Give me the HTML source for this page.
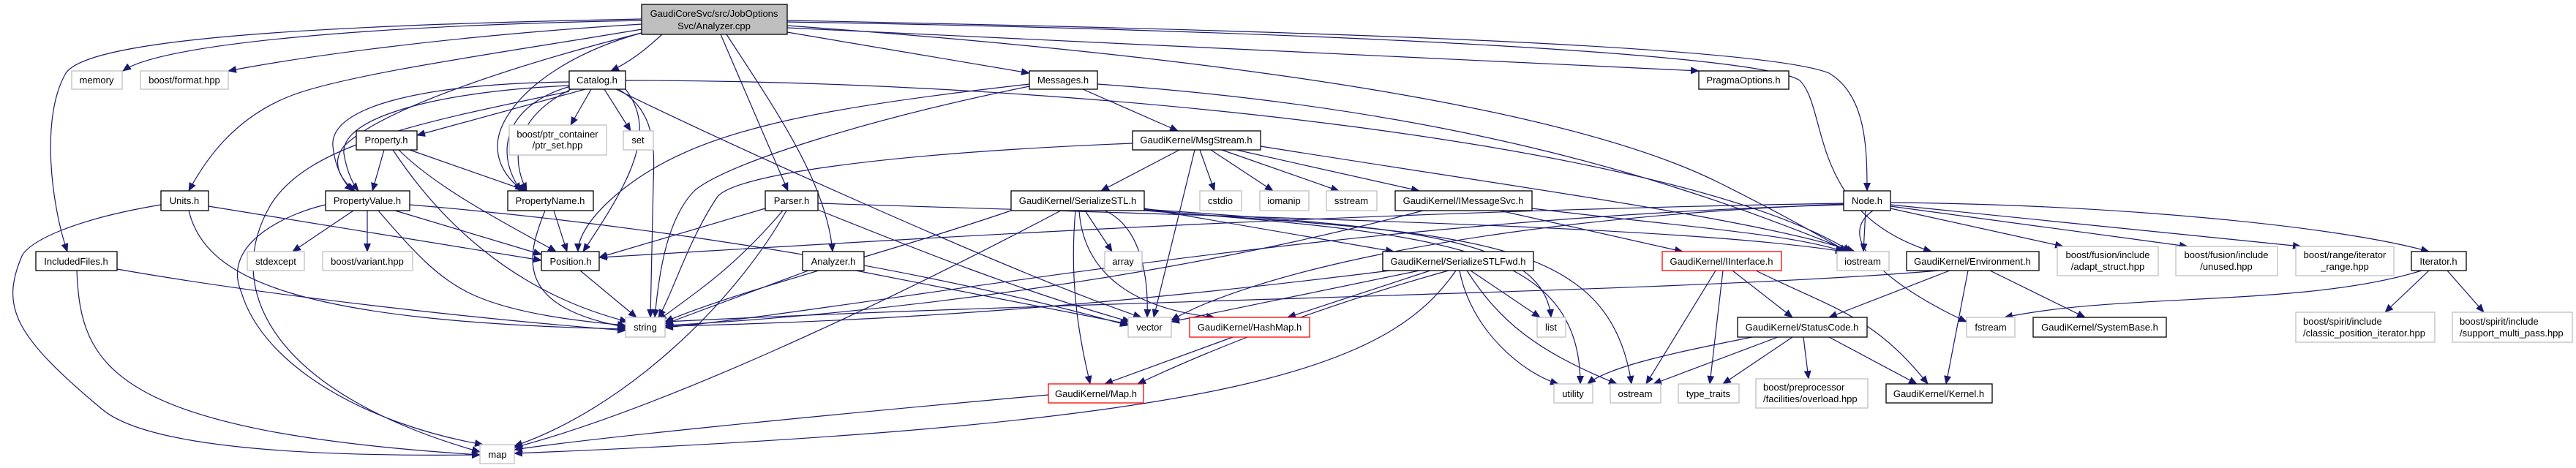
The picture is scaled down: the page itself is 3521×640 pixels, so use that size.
<!DOCTYPE html>
<html><head><meta charset="utf-8"><style>
html,body{margin:0;padding:0;background:#fff;}
svg{display:block;}
text{font-family:"Liberation Sans",Arial,sans-serif;font-size:13px;fill:#000;}
.e{fill:none;stroke:#191970;stroke-width:1.2;marker-end:url(#ah);}
.b{fill:#fff;stroke:#000;stroke-width:1.3;}
.g{fill:#fff;stroke:#bfbfbf;stroke-width:1.3;}
.r{fill:#fff;stroke:#ff0000;stroke-width:1.3;}
</style></head><body>
<svg width="3521" height="640" viewBox="0 0 3521 640" xmlns="http://www.w3.org/2000/svg">
<defs><marker id="ah" markerUnits="userSpaceOnUse" markerWidth="12" markerHeight="10" refX="11" refY="5" orient="auto"><path d="M0,0 L12,5 L0,10 z" fill="#191970"/></marker></defs>
<g>
<path class="e" d="M877,28 C500,35 220,60 168,97"/>
<path class="e" d="M877,33 C600,50 400,80 312,97"/>
<path class="e" d="M877,26 C400,35 120,55 90,100 C55,160 70,280 92,344"/>
<path class="e" d="M877,40 C700,70 480,100 400,130 C320,160 280,220 258,261"/>
<path class="e" d="M905,47 C880,70 860,85 835,97"/>
<path class="e" d="M877,45 C700,90 520,150 470,200 C450,225 470,250 485,261"/>
<path class="e" d="M877,45 C750,80 680,150 680,200 C680,230 700,250 715,261"/>
<path class="e" d="M985,47 L1077,261"/>
<path class="e" d="M993,47 C1060,150 1130,250 1138,344"/>
<path class="e" d="M1076,44 L1407,100"/>
<path class="e" d="M1076,38 C1600,60 2100,85 2322,97"/>
<path class="e" d="M1076,28 C1700,40 2400,60 2500,100 C2550,130 2552,200 2552,261"/>
<path class="e" d="M1076,30 C1700,40 2400,70 2460,110 C2500,150 2470,290 2640,344"/>
<path class="e" d="M1076,35 C1700,80 2150,150 2350,250 C2450,300 2500,330 2525,344"/>
<path class="e" d="M800,122 L570,185"/>
<path class="e" d="M808,122 L780,171"/>
<path class="e" d="M826,122 L862,179"/>
<path class="e" d="M778,112 C560,115 450,150 455,200 C458,230 470,250 482,261"/>
<path class="e" d="M778,117 C600,125 465,160 470,210 C475,240 485,255 490,261"/>
<path class="e" d="M780,118 C700,140 670,200 712,261"/>
<path class="e" d="M785,120 C720,150 690,200 720,261"/>
<path class="e" d="M845,122 C895,150 895,200 893,250 L889,434"/>
<path class="e" d="M842,122 C1000,200 1400,380 1560,434"/>
<path class="e" d="M778,125 C560,170 420,200 370,280 C300,400 380,540 656,618"/>
<path class="e" d="M855,110 C1500,110 2300,200 2530,344"/>
<path class="e" d="M855,122 C900,180 860,250 797,344"/>
<path class="e" d="M525,205 L509,261"/>
<path class="e" d="M560,205 L720,261"/>
<path class="e" d="M545,205 C600,260 700,310 760,344"/>
<path class="e" d="M537,205 C600,300 700,400 858,440"/>
<path class="e" d="M483,288 L400,344"/>
<path class="e" d="M502,288 L502,344"/>
<path class="e" d="M540,288 L740,348"/>
<path class="e" d="M517,288 C570,350 600,380 640,400 C700,430 800,440 855,445"/>
<path class="e" d="M445,280 C400,290 300,330 330,400 C360,500 500,580 660,608"/>
<path class="e" d="M560,280 C800,300 1200,350 1542,445"/>
<path class="e" d="M757,288 L775,344"/>
<path class="e" d="M745,288 C720,350 700,420 858,448"/>
<path class="e" d="M285,282 L740,356"/>
<path class="e" d="M258,288 C280,380 400,440 855,450"/>
<path class="e" d="M220,280 C100,300 40,330 30,350 C0,420 20,460 140,560 C200,610 400,625 656,622"/>
<path class="e" d="M160,368 C400,410 700,440 855,452"/>
<path class="e" d="M105,370 C110,500 150,590 656,622"/>
<path class="e" d="M793,370 L870,434"/>
<path class="e" d="M1046,285 L819,352"/>
<path class="e" d="M1070,288 C1000,370 950,400 900,438"/>
<path class="e" d="M1075,288 C1000,420 850,560 703,610"/>
<path class="e" d="M1118,287 C1250,340 1400,400 1545,440"/>
<path class="e" d="M1118,278 C1800,300 2300,310 2520,344"/>
<path class="e" d="M1105,370 L909,443"/>
<path class="e" d="M1170,370 L1542,443"/>
<path class="e" d="M1480,122 L1610,179"/>
<path class="e" d="M1407,115 C1100,150 950,180 850,260 C800,300 790,330 790,344"/>
<path class="e" d="M1407,118 C1200,160 1000,220 950,260 C910,300 900,380 895,434"/>
<path class="e" d="M1500,115 C2000,150 2300,250 2530,344"/>
<path class="e" d="M1612,205 L1505,261"/>
<path class="e" d="M1640,205 L1660,261"/>
<path class="e" d="M1655,205 L1740,261"/>
<path class="e" d="M1670,205 L1830,261"/>
<path class="e" d="M1690,205 L1940,261"/>
<path class="e" d="M1633,205 L1577,434"/>
<path class="e" d="M1548,196 C1200,210 1000,240 980,270 C940,330 920,400 900,434"/>
<path class="e" d="M1723,200 C2100,260 2400,300 2535,344"/>
<path class="e" d="M1483,288 L1520,344"/>
<path class="e" d="M1510,288 C1560,310 1570,380 1568,434"/>
<path class="e" d="M1475,288 C1480,360 1530,420 1660,434"/>
<path class="e" d="M1470,288 C1460,400 1480,480 1490,525"/>
<path class="e" d="M1564,285 L1905,344"/>
<path class="e" d="M1564,286 C1900,310 2110,320 2120,434"/>
<path class="e" d="M1564,287 C1950,320 2160,330 2160,525"/>
<path class="e" d="M1564,288 C2000,320 2200,320 2230,525"/>
<path class="e" d="M1450,288 C1200,420 900,560 703,612"/>
<path class="e" d="M1382,288 C1200,350 1000,400 909,440"/>
<path class="e" d="M2050,288 L2300,344"/>
<path class="e" d="M1945,288 C1600,380 1200,430 909,445"/>
<path class="e" d="M2094,285 C2300,310 2450,320 2520,344"/>
<path class="e" d="M2010,370 L2105,434"/>
<path class="e" d="M1995,370 C2010,450 2080,510 2130,525"/>
<path class="e" d="M2005,370 C2050,440 2100,480 2210,525"/>
<path class="e" d="M1980,370 C1800,420 1650,480 1555,525"/>
<path class="e" d="M1955,370 L1760,434"/>
<path class="e" d="M1940,370 L1601,440"/>
<path class="e" d="M1900,370 C1500,420 1200,440 909,446"/>
<path class="e" d="M1990,370 C1900,500 1700,580 703,620"/>
<path class="e" d="M2368,370 L2450,434"/>
<path class="e" d="M2345,370 L2250,525"/>
<path class="e" d="M2355,370 L2337,525"/>
<path class="e" d="M2400,370 C2500,420 2560,430 2635,525"/>
<path class="e" d="M2395,461 C2300,480 2200,500 2170,525"/>
<path class="e" d="M2430,461 L2260,525"/>
<path class="e" d="M2450,461 L2355,525"/>
<path class="e" d="M2465,461 L2472,518"/>
<path class="e" d="M2500,461 L2620,525"/>
<path class="e" d="M2665,370 L2500,434"/>
<path class="e" d="M2690,370 L2660,525"/>
<path class="e" d="M2720,370 L2850,434"/>
<path class="e" d="M2650,370 C2300,400 1500,410 909,440"/>
<path class="e" d="M2550,288 L2547,344"/>
<path class="e" d="M2520,278 C1800,290 1200,330 819,352"/>
<path class="e" d="M2520,279 C2000,300 1700,380 1601,438"/>
<path class="e" d="M2520,280 C1800,300 1200,420 909,448"/>
<path class="e" d="M2584,285 L2820,337"/>
<path class="e" d="M2584,282 L2990,337"/>
<path class="e" d="M2584,280 L3145,337"/>
<path class="e" d="M2584,277 C2900,280 3200,310 3320,344"/>
<path class="e" d="M2560,288 C2500,330 2600,400 2688,440"/>
<path class="e" d="M3310,370 C3150,420 2900,400 2740,434"/>
<path class="e" d="M3320,370 L3260,427"/>
<path class="e" d="M3345,370 L3395,427"/>
<path class="e" d="M1685,461 L1510,525"/>
<path class="e" d="M1433,540 C1100,570 800,600 703,615"/>
</g>
<g>
<rect x="877" y="6" width="199" height="41" fill="#bfbfbf" stroke="#000" stroke-width="1.3"/>
<text x="976" y="23" text-anchor="middle">GaudiCoreSvc/src/JobOptions</text>
<text x="976" y="40" text-anchor="middle">Svc/Analyzer.cpp</text>

<rect class="g" x="98" y="97" width="69" height="25"/><text x="132" y="114" text-anchor="middle">memory</text>
<rect class="g" x="192" y="97" width="120" height="25"/><text x="252" y="114" text-anchor="middle">boost/format.hpp</text>
<rect class="b" x="778" y="97" width="77" height="25"/><text x="816" y="114" text-anchor="middle">Catalog.h</text>
<rect class="b" x="1407" y="97" width="93" height="25"/><text x="1453" y="114" text-anchor="middle">Messages.h</text>
<rect class="b" x="2322" y="97" width="123" height="25"/><text x="2383" y="114" text-anchor="middle">PragmaOptions.h</text>

<rect class="b" x="487" y="179" width="83" height="26"/><text x="528" y="196" text-anchor="middle">Property.h</text>
<rect class="g" x="696" y="171" width="133" height="41"/><text x="762" y="188" text-anchor="middle">boost/ptr_container</text><text x="762" y="203" text-anchor="middle">/ptr_set.hpp</text>
<rect class="g" x="852" y="179" width="41" height="26"/><text x="872" y="196" text-anchor="middle">set</text>
<rect class="b" x="1548" y="179" width="175" height="26"/><text x="1635" y="196" text-anchor="middle">GaudiKernel/MsgStream.h</text>

<rect class="b" x="220" y="261" width="65" height="27"/><text x="252" y="279" text-anchor="middle">Units.h</text>
<rect class="b" x="445" y="261" width="115" height="27"/><text x="502" y="279" text-anchor="middle">PropertyValue.h</text>
<rect class="b" x="694" y="261" width="117" height="27"/><text x="752" y="279" text-anchor="middle">PropertyName.h</text>
<rect class="b" x="1046" y="261" width="72" height="27"/><text x="1082" y="279" text-anchor="middle">Parser.h</text>
<rect class="b" x="1382" y="261" width="182" height="27"/><text x="1473" y="279" text-anchor="middle">GaudiKernel/SerializeSTL.h</text>
<rect class="g" x="1640" y="261" width="57" height="27"/><text x="1668" y="279" text-anchor="middle">cstdio</text>
<rect class="g" x="1722" y="261" width="67" height="27"/><text x="1755" y="279" text-anchor="middle">iomanip</text>
<rect class="g" x="1813" y="261" width="69" height="27"/><text x="1847" y="279" text-anchor="middle">sstream</text>
<rect class="b" x="1907" y="261" width="187" height="27"/><text x="2000" y="279" text-anchor="middle">GaudiKernel/IMessageSvc.h</text>
<rect class="b" x="2520" y="261" width="64" height="27"/><text x="2552" y="279" text-anchor="middle">Node.h</text>

<rect class="b" x="49" y="344" width="111" height="26"/><text x="104" y="362" text-anchor="middle">IncludedFiles.h</text>
<rect class="g" x="338" y="344" width="78" height="26"/><text x="377" y="362" text-anchor="middle">stdexcept</text>
<rect class="g" x="441" y="344" width="123" height="26"/><text x="502" y="362" text-anchor="middle">boost/variant.hpp</text>
<rect class="b" x="740" y="344" width="79" height="26"/><text x="780" y="362" text-anchor="middle">Position.h</text>
<rect class="b" x="1097" y="344" width="84" height="26"/><text x="1139" y="362" text-anchor="middle">Analyzer.h</text>
<rect class="g" x="1510" y="344" width="51" height="26"/><text x="1535" y="362" text-anchor="middle">array</text>
<rect class="b" x="1890" y="344" width="206" height="26"/><text x="1993" y="362" text-anchor="middle">GaudiKernel/SerializeSTLFwd.h</text>
<rect class="r" x="2272" y="344" width="163" height="26"/><text x="2353" y="362" text-anchor="middle">GaudiKernel/IInterface.h</text>
<rect class="g" x="2511" y="344" width="71" height="26"/><text x="2546" y="362" text-anchor="middle">iostream</text>
<rect class="b" x="2606" y="344" width="181" height="26"/><text x="2696" y="362" text-anchor="middle">GaudiKernel/Environment.h</text>
<rect class="g" x="2812" y="337" width="138" height="40"/><text x="2881" y="353" text-anchor="middle">boost/fusion/include</text><text x="2881" y="369" text-anchor="middle">/adapt_struct.hpp</text>
<rect class="g" x="2974" y="337" width="139" height="40"/><text x="3043" y="353" text-anchor="middle">boost/fusion/include</text><text x="3043" y="369" text-anchor="middle">/unused.hpp</text>
<rect class="g" x="3138" y="337" width="134" height="40"/><text x="3205" y="353" text-anchor="middle">boost/range/iterator</text><text x="3205" y="369" text-anchor="middle">_range.hpp</text>
<rect class="b" x="3296" y="344" width="75" height="26"/><text x="3333" y="362" text-anchor="middle">Iterator.h</text>

<rect class="g" x="855" y="434" width="54" height="27"/><text x="882" y="452" text-anchor="middle">string</text>
<rect class="g" x="1542" y="434" width="59" height="27"/><text x="1571" y="452" text-anchor="middle">vector</text>
<rect class="r" x="1626" y="434" width="164" height="27"/><text x="1708" y="452" text-anchor="middle">GaudiKernel/HashMap.h</text>
<rect class="g" x="2101" y="434" width="39" height="27"/><text x="2120" y="452" text-anchor="middle">list</text>
<rect class="b" x="2375" y="434" width="177" height="27"/><text x="2463" y="452" text-anchor="middle">GaudiKernel/StatusCode.h</text>
<rect class="g" x="2688" y="434" width="66" height="27"/><text x="2721" y="452" text-anchor="middle">fstream</text>
<rect class="b" x="2779" y="434" width="182" height="27"/><text x="2870" y="452" text-anchor="middle">GaudiKernel/SystemBase.h</text>
<rect class="g" x="3138" y="427" width="190" height="41"/><text x="3148" y="444">boost/spirit/include</text><text x="3148" y="460">/classic_position_iterator.hpp</text>
<rect class="g" x="3352" y="427" width="164" height="41"/><text x="3362" y="444">boost/spirit/include</text><text x="3362" y="460">/support_multi_pass.hpp</text>

<rect class="r" x="1433" y="525" width="130" height="26"/><text x="1498" y="543" text-anchor="middle">GaudiKernel/Map.h</text>
<rect class="g" x="2124" y="525" width="53" height="26"/><text x="2150" y="543" text-anchor="middle">utility</text>
<rect class="g" x="2201" y="525" width="69" height="26"/><text x="2235" y="543" text-anchor="middle">ostream</text>
<rect class="g" x="2294" y="525" width="83" height="26"/><text x="2335" y="543" text-anchor="middle">type_traits</text>
<rect class="g" x="2400" y="518" width="153" height="40"/><text x="2410" y="534">boost/preprocessor</text><text x="2410" y="550">/facilities/overload.hpp</text>
<rect class="b" x="2578" y="525" width="145" height="26"/><text x="2650" y="543" text-anchor="middle">GaudiKernel/Kernel.h</text>

<rect class="g" x="656" y="608" width="47" height="26"/><text x="680" y="626" text-anchor="middle">map</text>
</g>
</svg>
</body></html>
